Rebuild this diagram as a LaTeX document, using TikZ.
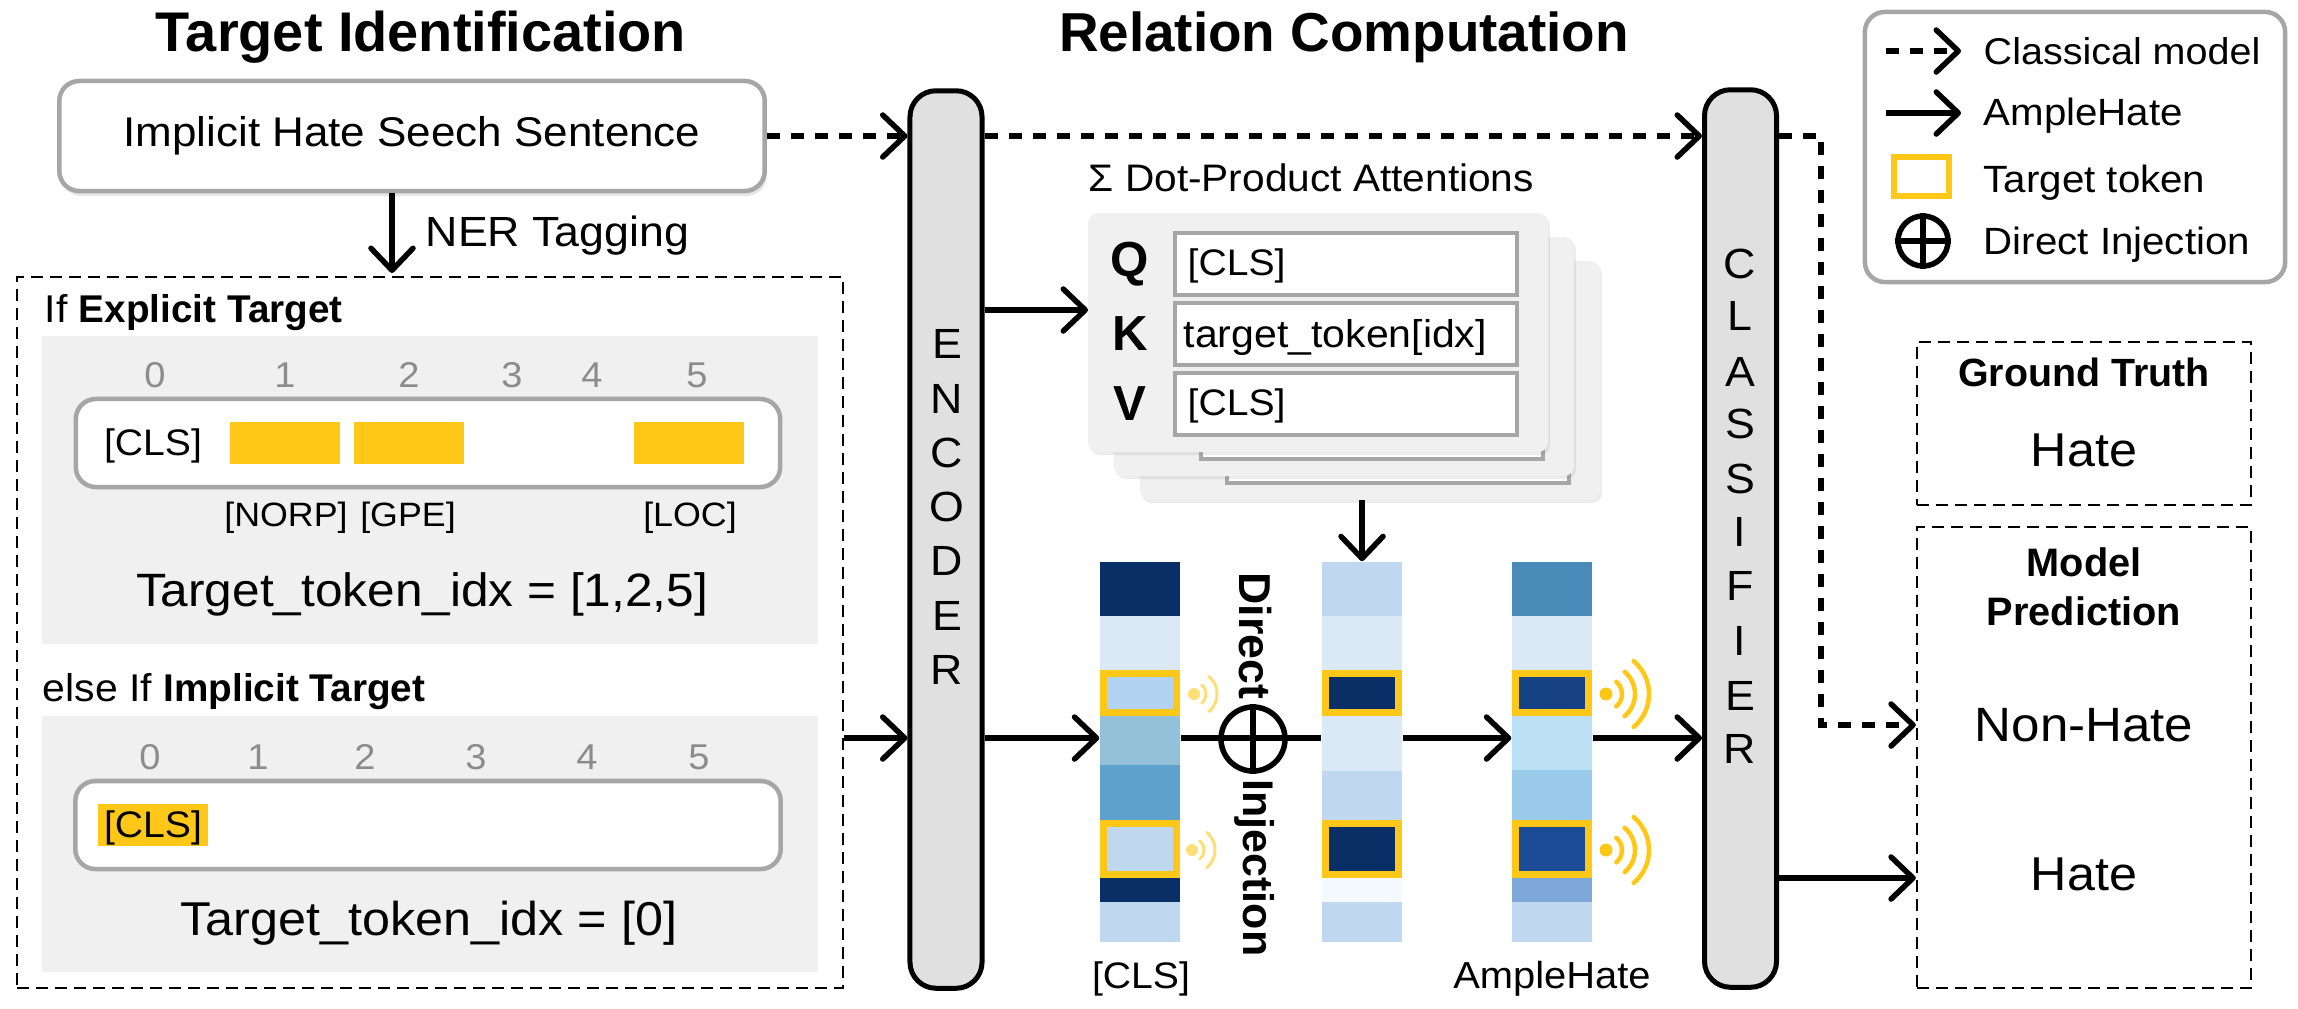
\documentclass[tikz,border=0pt]{standalone}
\usepackage{fontspec}
\setmainfont[FakeStretch=1.06,BoldFeatures={FakeStretch=1.0}]{Liberation Sans}
\usetikzlibrary{arrows.meta,shadows}
\definecolor{tokyellow}{HTML}{FFC819}
\definecolor{linegray}{HTML}{A6A6A6}
\definecolor{panelgray}{HTML}{F0F0F0}
\definecolor{blockgray}{HTML}{E0E0E0}
\definecolor{numgray}{HTML}{8C8C8C}
\definecolor{navy}{HTML}{0A2F66}
\definecolor{pale}{HTML}{DBE8F5}
\definecolor{soft}{HTML}{BFD8EF}
\definecolor{colAa}{HTML}{93C1DA}
\definecolor{colAb}{HTML}{5EA1CC}
\definecolor{colAc}{HTML}{B3D3F2}
\definecolor{colBa}{HTML}{F5FAFE}
\definecolor{colCa}{HTML}{4A8AB8}
\definecolor{colCb}{HTML}{BBE0F3}
\definecolor{colCc}{HTML}{99CAEA}
\definecolor{colCd}{HTML}{7EA8D8}
\definecolor{colCe}{HTML}{164285}
\definecolor{colCf}{HTML}{1A4B94}
\tikzset{
  sz/.style={inner sep=0pt,font=\fontsize{#1}{13.4}\selectfont},
  bsz/.style={inner sep=0pt,font=\bfseries\fontsize{#1}{13.4}\selectfont},
  solidarrow/.style={line width=0.055cm,-{Straight Barb[length=0.22cm,width=0.42cm,round]}},
  dasharrow/.style={solidarrow,dash pattern=on 0.13cm off 0.11cm},
  roundbox/.style={draw=linegray,line width=0.045cm,fill=white,rounded corners=0.2cm,inner sep=0pt},
  dashbox/.style={draw,line width=0.022cm,dash pattern=on 0.12cm off 0.07cm,inner sep=0pt},
  block/.style={draw,line width=0.05cm,fill=blockgray,rounded corners=0.26cm,inner sep=0pt,minimum width=0.72cm,minimum height=8.97cm},
  letter/.style={sz=12},
  tokbox/.style={draw=tokyellow,line width=0.07cm},
  numlab/.style={sz=10.2,text=numgray},
  card/.style={fill=panelgray,rounded corners=0.1cm,drop shadow={shadow xshift=0.02cm,shadow yshift=-0.03cm,opacity=0.15}},
  field/.style={draw=linegray,line width=0.035cm,fill=white},
  wave/.style={draw=tokyellow,line width=0.045cm,line cap=round},
  plusnode/.style={draw,circle,line width=0.055cm,inner sep=0pt}
}
\begin{document}
\begin{tikzpicture}[x=0.01cm,y=-0.01cm]
\useasboundingbox (0,0) rectangle (2298,1008);

% titles
\node [bsz=15.9,anchor=base] (titleA) at (421,51) {Target Identification};
\node [bsz=15.6,anchor=base] (titleB) at (1344,51) {Relation Computation};

% sentence
\node [roundbox,minimum width=7.05cm,minimum height=1.1cm,font=\fontsize{11.8}{13.4}\selectfont,drop shadow={shadow xshift=0.02cm,shadow yshift=-0.05cm,opacity=0.2}] (sentence) at (412,136) {\raisebox{-0.03cm}{Implicit Hate Seech Sentence}};
\coordinate (nerend) at (392,273);
\draw [solidarrow] (sentence.south -| nerend) -- (nerend);
\node [sz=12,anchor=base west] (ner) at (425,246) {NER Tagging};

% left box
\node [dashbox,minimum width=8.26cm,minimum height=7.11cm] (leftbox) at (430,632.5) {};
\node [sz=11,anchor=base west] (ifA) at (44,322) {If \textbf{Explicit Target}};
\fill [panelgray] (42,336) rectangle (818,644);
\foreach \x/\t in {155/0,285/1,409/2,512/3,592/4,697/5}
  \node [numlab] (numA\t) at (\x,375) {\t};
\node [roundbox,minimum width=7.04cm,minimum height=0.88cm] (seqA) at (428,443) {};
\node [sz=10.5,anchor=base] (clsA) at (153,455) {[CLS]};
\foreach \xa/\xb in {230/340,354/464,634/744}
  \fill [tokyellow] (\xa,422) rectangle (\xb,464);
\foreach \x/\t in {286/NORP,408/GPE,690/LOC}
  \node [sz=9.6,anchor=base] (tag\t) at (\x,526) {[\t]};
\node [sz=13.3,anchor=base] (idxA) at (422,606) {Target\_token\_idx = [1,2,5]};

\node [sz=11,anchor=base west] (ifB) at (42,701) {else If \textbf{Implicit Target}};
\fill [panelgray] (42,716) rectangle (818,972);
\foreach \x/\t in {150/0,258/1,365/2,476/3,587/4,699/5}
  \node [numlab] (numB\t) at (\x,757) {\t};
\node [roundbox,minimum width=7.05cm,minimum height=0.88cm] (seqB) at (428,825) {};
\fill [tokyellow] (98,804) rectangle (208,846);
\node [sz=10.5,anchor=base] (clsB) at (153,837) {[CLS]};
\node [sz=13.5,anchor=base] (idxB) at (429,935) {Target\_token\_idx = [0]};

% encoder, classifier
\node [block] (enc) at (946,539.5) {};
\foreach \y/\t in {344/E,399/N,453/C,507/O,561/D,616/E,670/R}
  \node [letter] (enc\y) at (947,\y) {\t};
\node [block] (cls) at (1740.5,538.5) {};
\foreach \y/\t in {264/C,316/L,372/A,424/S,479/S,532/I,586/F,641/I,696/E,749/R}
  \node [letter] (cls\y) at (1740,\y) {\t};

% attention cards
\node [sz=10.9,anchor=base west] (sumdot) at (1088,191) {Σ Dot-Product Attentions};
\foreach \d/\e in {52/48,26/24,0/0} {
  \begin{scope}[shift={(\d,\e)}]
    \fill [card] (1088,213) rectangle (1548,452);
    \draw [field] (1175,233) rectangle (1517,295);
    \draw [field] (1175,303) rectangle (1517,365);
    \draw [field] (1175,373) rectangle (1517,435);
  \end{scope}
}
\foreach \y/\t in {264/Q,334/K,404/V}
  \node [bsz=14] (attn\t) at (1130,\y) {\t};
\node [sz=10.5,anchor=base west] (fieldQ) at (1187,275) {[CLS]};
\node [sz=11,anchor=base west] (fieldK) at (1183,347) {target\_token[idx]};
\node [sz=10.5,anchor=base west] (fieldV) at (1187,415) {[CLS]};
\coordinate (cardK) at (1088,310);
\coordinate (cardout) at (1362,500);

% columns
\foreach \ya/\yb/\c in {562/616/navy,616/670/pale,716/765/colAa,765/820/colAb,878/902/navy,902/942/soft}
  \fill [\c] (1100,\ya) rectangle (1180,\yb);
\draw [tokbox,fill=colAc] (1103.5,673.5) rectangle (1176.5,712.5);
\draw [tokbox,fill=soft] (1103.5,823.5) rectangle (1176.5,874.5);

\foreach \ya/\yb/\c in {562/616/soft,616/670/pale,716/771/pale,771/820/soft,878/902/colBa,902/942/soft}
  \fill [\c] (1322,\ya) rectangle (1402,\yb);
\draw [tokbox,fill=navy] (1325.5,673.5) rectangle (1398.5,712.5);
\draw [tokbox,fill=navy] (1325.5,823.5) rectangle (1398.5,874.5);

\foreach \ya/\yb/\c in {562/616/colCa,616/670/pale,716/770/colCb,770/820/colCc,878/902/colCd,902/942/soft}
  \fill [\c] (1512,\ya) rectangle (1592,\yb);
\draw [tokbox,fill=colCe] (1515.5,673.5) rectangle (1588.5,712.5);
\draw [tokbox,fill=colCf] (1515.5,823.5) rectangle (1588.5,874.5);

\node [minimum width=0.8cm,minimum height=3.8cm,inner sep=0pt] (colA) at (1140,752) {};
\node [minimum width=0.8cm,minimum height=3.8cm,inner sep=0pt] (colB) at (1362,752) {};
\node [minimum width=0.8cm,minimum height=3.8cm,inner sep=0pt] (colC) at (1552,752) {};
\node [sz=10.5,anchor=base] (lblcls) at (1141,988) {[CLS]};
\node [sz=10.7,anchor=base] (lblample) at (1552,988) {AmpleHate};

% signal waves
\foreach \x/\y in {1194/694,1192/850} {
  \fill [tokyellow,opacity=0.6] (\x,\y) circle [radius=6];
  \draw [wave,opacity=0.6,line width=0.03cm] (\x,\y) ++(-50:12) arc [start angle=-50,end angle=50,radius=12];
  \draw [wave,opacity=0.6,line width=0.03cm] (\x,\y) ++(-50:23) arc [start angle=-50,end angle=50,radius=23];
}
\foreach \y in {694,850} {
  \fill [tokyellow] (1606,\y) circle [radius=6.5];
  \foreach \r in {16,29,43}
    \draw [wave] (1606,\y) ++(-50:\r) arc [start angle=-50,end angle=50,radius=\r];
}

% injection
\coordinate (midline) at (0,738);
\draw [line width=0.055cm] (colA.east |- midline) -- (colB.west |- midline);
\node [plusnode,minimum size=0.64cm] (inject) at (1253,739) {};
\draw [line width=0.055cm] (inject.north) -- (inject.south);
\node [bsz=12.7,rotate=-90] (direct) at (1255,636) {Direct};
\node [bsz=12.2,rotate=-90] (injection) at (1255,868) {Injection};

% results
\node [dashbox,minimum width=3.34cm,minimum height=1.63cm] (truthbox) at (2084,423.5) {};
\node [bsz=11.2,anchor=base] (truthhead) at (2084,386) {Ground Truth};
\node [sz=13.5,anchor=base] (truthval) at (2084,466) {Hate};
\node [dashbox,minimum width=3.34cm,minimum height=4.61cm] (predbox) at (2084,757.5) {};
\node [bsz=11.3,anchor=base] (predheadA) at (2084,576) {Model};
\node [bsz=11.3,anchor=base] (predheadB) at (2084,625) {Prediction};
\node [sz=13.7,anchor=base] (predA) at (2084,741) {Non-Hate};
\node [sz=13.5,anchor=base] (predB) at (2084,890) {Hate};
\coordinate (hateline) at (0,878);
\draw [solidarrow] (cls.east |- hateline) -- (predbox.west |- hateline);

% connectors
\coordinate (topline) at (0,136);
\draw [dasharrow] (sentence.east) -- (enc.west |- topline);
\draw [dasharrow] (enc.east |- topline) -- (cls.west |- topline);
\coordinate (turn) at (1821,725);
\draw [dasharrow] (cls.east |- topline) -| (turn) -- (turn -| predbox.west);
\draw [solidarrow] (leftbox.east |- midline) -- (enc.west |- midline);
\draw [solidarrow] (enc.east |- midline) -- (colA.west |- midline);
\draw [solidarrow] (colB.east |- midline) -- (colC.west |- midline);
\draw [solidarrow] (colC.east |- midline) -- (cls.west |- midline);
\draw [solidarrow] (enc.east |- cardK) -- (cardK);
\draw [solidarrow] (cardout) -- (colB.north);

% legend
\node [roundbox,minimum width=4.2cm,minimum height=2.7cm] (legend) at (2075,147) {};
\foreach \y/\s/\t in {64/10.6/Classical model,125/10.8/AmpleHate,192/10.8/Target token,254/10.8/Direct Injection}
  \node [sz=\s,anchor=base west] (lg\y) at (1983,\y) {\t};
\coordinate (lgdashA) at (1886,51);
\coordinate (lgdashB) at (1961,51);
\coordinate (lgsolidA) at (1886,113);
\coordinate (lgsolidB) at (1961,113);
\draw [dasharrow] (lgdashA) -- (lgdashB);
\draw [solidarrow] (lgsolidA) -- (lgsolidB);
\draw [tokbox,line width=0.06cm] (1894,157) rectangle (1949,196);
\node [plusnode,minimum size=0.5cm] (lgplus) at (1923,241) {};
\draw [line width=0.055cm] (lgplus.north) -- (lgplus.south);
\draw [line width=0.055cm] (lgplus.west) -- (lgplus.east);
\end{tikzpicture}
\end{document}
